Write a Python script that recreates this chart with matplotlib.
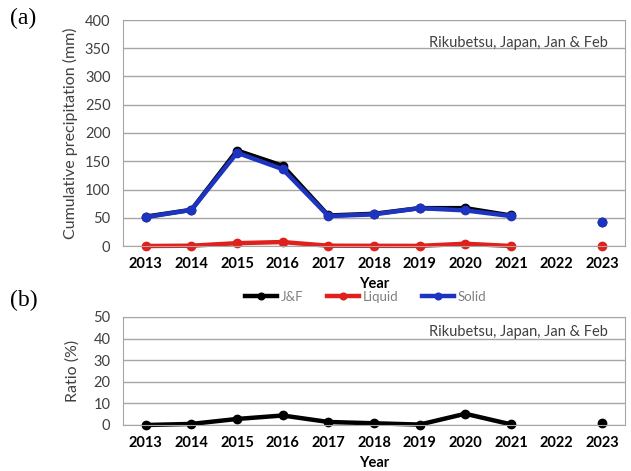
import numpy as np
import matplotlib.pyplot as plt

plt.rcParams['font.family'] = ['Lato', 'DejaVu Sans']

years = ['2013', '2014', '2015', '2016', '2017', '2018', '2019', '2020', '2021', '2022', '2023']
jf = [52, 64, 169, 142, 54, 57, 67, 67, 54, np.nan, 42]
liquid = [0, 0.5, 5, 7, 0.5, 0.3, 0.2, 4, 0, np.nan, 0]
solid = [51, 64, 165, 136, 53, 56, 67, 63, 53, np.nan, 42]
ratio = [0, 0.5, 2.8, 4.4, 1.4, 0.8, 0.2, 5.2, 0.3, np.nan, 0.9]

x = np.arange(len(years))
grid_c = '#a6a6a6'
txt_c = '#404040'

fig = plt.figure(figsize=(6.31, 4.71), dpi=100)
ax1 = fig.add_axes([123 / 631, 1 - 246 / 471, 502 / 631, 226 / 471])
ax2 = fig.add_axes([123 / 631, 1 - 425 / 471, 502 / 631, 108 / 471])


def style(ax, ymax, step):
    ax.set_xlim(-0.5, len(years) - 0.5)
    ax.set_ylim(0, ymax)
    ax.set_yticks(np.arange(0, ymax + 1, step))
    ax.set_xticks(x)
    ax.set_xticklabels(years, fontweight='bold', fontsize=10.5, color='black')
    ax.tick_params(axis='y', labelsize=10.5, labelcolor=txt_c, length=0, pad=9)
    ax.tick_params(axis='x', length=0, pad=8)
    ax.grid(axis='y', color=grid_c, lw=1)
    ax.set_axisbelow(True)
    for s in ax.spines.values():
        s.set_color(grid_c)
    ax.set_xlabel('Year', fontweight='bold', fontsize=10.5, labelpad=4)
    ax.text(0.965, 0.93, 'Rikubetsu, Japan, Jan & Feb', transform=ax.transAxes,
            ha='right', va='top', fontsize=10.5, color=txt_c)


lw, ms = 3.2, 6
ax1.plot(x, jf, '-o', color='black', lw=lw, ms=ms, label='J&F', clip_on=False)
ax1.plot(x, liquid, '-o', color='#e0201c', lw=lw, ms=ms, label='Liquid', clip_on=False)
ax1.plot(x, solid, '-o', color='#1c34c0', lw=lw, ms=ms, label='Solid', clip_on=False)
style(ax1, 400, 50)
ax1.set_ylabel('Cumulative precipitation (mm)', fontsize=11.5, color=txt_c, labelpad=5)

ax2.plot(x, ratio, '-o', color='black', lw=lw, ms=ms, clip_on=False)
style(ax2, 50, 10)
ax2.set_ylabel('Ratio (%)', fontsize=11.5, color=txt_c, labelpad=10)

handles, labels = ax1.get_legend_handles_labels()
leg = fig.legend(handles, labels, loc='center',
                 bbox_to_anchor=(366 / 631, 1 - 297 / 471), ncol=3, frameon=False,
                 fontsize=9.5, handlelength=2.4, handletextpad=0.3, columnspacing=1.8,
                 labelcolor='#7f7f7f', markerscale=0.8)

fig.text(10 / 631, 1 - 18 / 471, '(a)', fontsize=17, family='Liberation Serif', va='center')
fig.text(10 / 631, 1 - 300 / 471, '(b)', fontsize=17, family='Liberation Serif', va='center')

fig.savefig('out.png', dpi=100)
